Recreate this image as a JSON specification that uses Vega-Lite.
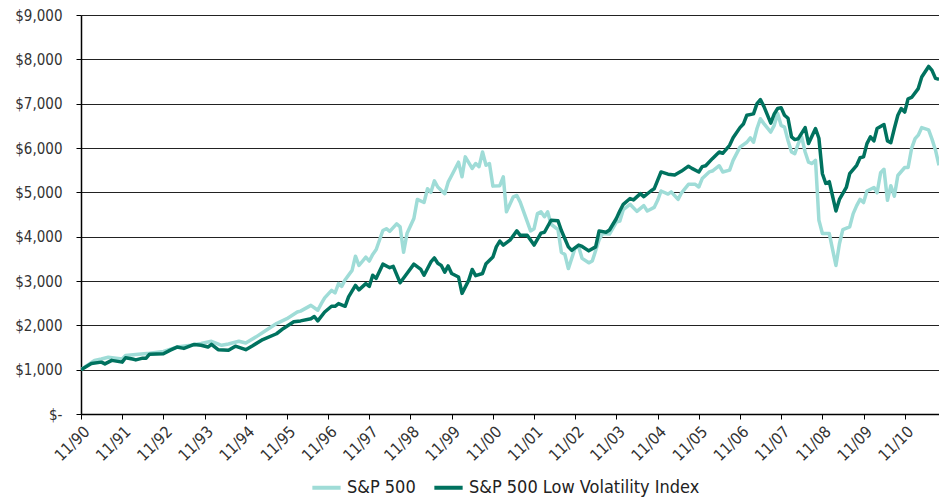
{
  "$schema": "https://vega.github.io/schema/vega-lite/v6.json",
  "width": 858,
  "height": 399,
  "autosize": {"type": "none"},
  "padding": {"left": 81, "top": 15, "right": 0, "bottom": 85},
  "background": "white",
  "config": {
    "view": {"stroke": null},
    "font": "DejaVu Sans Condensed"
  },
  "data": {
    "values": [
      {"d":"1990-11-01","s":"S&P 500","v":1000},
      {"d":"1991-03-01","s":"S&P 500","v":1210},
      {"d":"1991-05-01","s":"S&P 500","v":1240},
      {"d":"1991-07-01","s":"S&P 500","v":1280},
      {"d":"1991-11-01","s":"S&P 500","v":1240},
      {"d":"1991-12-01","s":"S&P 500","v":1320},
      {"d":"1992-03-01","s":"S&P 500","v":1340},
      {"d":"1992-07-01","s":"S&P 500","v":1370},
      {"d":"1992-11-01","s":"S&P 500","v":1410},
      {"d":"1993-03-01","s":"S&P 500","v":1510},
      {"d":"1993-07-01","s":"S&P 500","v":1550},
      {"d":"1993-10-01","s":"S&P 500","v":1590},
      {"d":"1994-01-01","s":"S&P 500","v":1640},
      {"d":"1994-04-01","s":"S&P 500","v":1550},
      {"d":"1994-06-01","s":"S&P 500","v":1580},
      {"d":"1994-09-01","s":"S&P 500","v":1640},
      {"d":"1994-11-01","s":"S&P 500","v":1600},
      {"d":"1995-02-01","s":"S&P 500","v":1740},
      {"d":"1995-05-01","s":"S&P 500","v":1890},
      {"d":"1995-08-01","s":"S&P 500","v":2040},
      {"d":"1995-11-01","s":"S&P 500","v":2150},
      {"d":"1996-02-01","s":"S&P 500","v":2300},
      {"d":"1996-03-01","s":"S&P 500","v":2320},
      {"d":"1996-06-01","s":"S&P 500","v":2450},
      {"d":"1996-08-01","s":"S&P 500","v":2340},
      {"d":"1996-09-01","s":"S&P 500","v":2490},
      {"d":"1996-10-01","s":"S&P 500","v":2620},
      {"d":"1996-12-01","s":"S&P 500","v":2790},
      {"d":"1997-01-01","s":"S&P 500","v":2730},
      {"d":"1997-02-01","s":"S&P 500","v":2940},
      {"d":"1997-03-01","s":"S&P 500","v":2880},
      {"d":"1997-04-01","s":"S&P 500","v":3030},
      {"d":"1997-06-01","s":"S&P 500","v":3240},
      {"d":"1997-07-01","s":"S&P 500","v":3560},
      {"d":"1997-08-01","s":"S&P 500","v":3350},
      {"d":"1997-10-01","s":"S&P 500","v":3540},
      {"d":"1997-11-01","s":"S&P 500","v":3450},
      {"d":"1997-12-01","s":"S&P 500","v":3600},
      {"d":"1998-01-01","s":"S&P 500","v":3710},
      {"d":"1998-03-01","s":"S&P 500","v":4140},
      {"d":"1998-04-01","s":"S&P 500","v":4180},
      {"d":"1998-05-01","s":"S&P 500","v":4120},
      {"d":"1998-07-01","s":"S&P 500","v":4290},
      {"d":"1998-08-01","s":"S&P 500","v":4220},
      {"d":"1998-09-01","s":"S&P 500","v":3650},
      {"d":"1998-10-01","s":"S&P 500","v":4070},
      {"d":"1998-12-01","s":"S&P 500","v":4410},
      {"d":"1999-01-01","s":"S&P 500","v":4840},
      {"d":"1999-03-01","s":"S&P 500","v":4770},
      {"d":"1999-04-01","s":"S&P 500","v":5080},
      {"d":"1999-05-01","s":"S&P 500","v":5000},
      {"d":"1999-06-01","s":"S&P 500","v":5260},
      {"d":"1999-07-01","s":"S&P 500","v":5120},
      {"d":"1999-09-01","s":"S&P 500","v":4970},
      {"d":"1999-10-01","s":"S&P 500","v":5230},
      {"d":"1999-11-01","s":"S&P 500","v":5380},
      {"d":"2000-01-01","s":"S&P 500","v":5680},
      {"d":"2000-02-01","s":"S&P 500","v":5350},
      {"d":"2000-03-01","s":"S&P 500","v":5800},
      {"d":"2000-05-01","s":"S&P 500","v":5540},
      {"d":"2000-06-01","s":"S&P 500","v":5650},
      {"d":"2000-07-01","s":"S&P 500","v":5580},
      {"d":"2000-08-01","s":"S&P 500","v":5910},
      {"d":"2000-09-01","s":"S&P 500","v":5610},
      {"d":"2000-10-01","s":"S&P 500","v":5650},
      {"d":"2000-11-01","s":"S&P 500","v":5140},
      {"d":"2001-01-01","s":"S&P 500","v":5150},
      {"d":"2001-02-01","s":"S&P 500","v":5350},
      {"d":"2001-03-01","s":"S&P 500","v":4560},
      {"d":"2001-05-01","s":"S&P 500","v":4900},
      {"d":"2001-06-01","s":"S&P 500","v":4930},
      {"d":"2001-07-01","s":"S&P 500","v":4780},
      {"d":"2001-10-01","s":"S&P 500","v":4130},
      {"d":"2001-11-01","s":"S&P 500","v":4180},
      {"d":"2001-12-01","s":"S&P 500","v":4520},
      {"d":"2002-01-01","s":"S&P 500","v":4560},
      {"d":"2002-02-01","s":"S&P 500","v":4450},
      {"d":"2002-03-01","s":"S&P 500","v":4560},
      {"d":"2002-04-01","s":"S&P 500","v":4280},
      {"d":"2002-06-01","s":"S&P 500","v":4160},
      {"d":"2002-07-01","s":"S&P 500","v":3650},
      {"d":"2002-08-01","s":"S&P 500","v":3600},
      {"d":"2002-09-01","s":"S&P 500","v":3280},
      {"d":"2002-11-01","s":"S&P 500","v":3750},
      {"d":"2002-12-01","s":"S&P 500","v":3770},
      {"d":"2003-01-01","s":"S&P 500","v":3510},
      {"d":"2003-03-01","s":"S&P 500","v":3410},
      {"d":"2003-04-01","s":"S&P 500","v":3450},
      {"d":"2003-06-01","s":"S&P 500","v":3930},
      {"d":"2003-07-01","s":"S&P 500","v":4070},
      {"d":"2003-09-01","s":"S&P 500","v":4060},
      {"d":"2003-11-01","s":"S&P 500","v":4330},
      {"d":"2003-12-01","s":"S&P 500","v":4350},
      {"d":"2004-01-01","s":"S&P 500","v":4610},
      {"d":"2004-03-01","s":"S&P 500","v":4730},
      {"d":"2004-05-01","s":"S&P 500","v":4570},
      {"d":"2004-07-01","s":"S&P 500","v":4700},
      {"d":"2004-08-01","s":"S&P 500","v":4580},
      {"d":"2004-10-01","s":"S&P 500","v":4660},
      {"d":"2004-11-01","s":"S&P 500","v":4820},
      {"d":"2004-12-01","s":"S&P 500","v":5030},
      {"d":"2005-02-01","s":"S&P 500","v":4960},
      {"d":"2005-03-01","s":"S&P 500","v":5010},
      {"d":"2005-05-01","s":"S&P 500","v":4840},
      {"d":"2005-06-01","s":"S&P 500","v":4990},
      {"d":"2005-08-01","s":"S&P 500","v":5180},
      {"d":"2005-10-01","s":"S&P 500","v":5180},
      {"d":"2005-11-01","s":"S&P 500","v":5120},
      {"d":"2005-12-01","s":"S&P 500","v":5310},
      {"d":"2006-02-01","s":"S&P 500","v":5460},
      {"d":"2006-03-01","s":"S&P 500","v":5480},
      {"d":"2006-05-01","s":"S&P 500","v":5600},
      {"d":"2006-06-01","s":"S&P 500","v":5460},
      {"d":"2006-08-01","s":"S&P 500","v":5500},
      {"d":"2006-09-01","s":"S&P 500","v":5720},
      {"d":"2006-11-01","s":"S&P 500","v":6020},
      {"d":"2007-01-01","s":"S&P 500","v":6130},
      {"d":"2007-02-01","s":"S&P 500","v":6230},
      {"d":"2007-03-01","s":"S&P 500","v":6130},
      {"d":"2007-04-01","s":"S&P 500","v":6440},
      {"d":"2007-05-01","s":"S&P 500","v":6660},
      {"d":"2007-06-01","s":"S&P 500","v":6550},
      {"d":"2007-08-01","s":"S&P 500","v":6360},
      {"d":"2007-09-01","s":"S&P 500","v":6510},
      {"d":"2007-10-01","s":"S&P 500","v":6780},
      {"d":"2007-11-01","s":"S&P 500","v":6510},
      {"d":"2007-12-01","s":"S&P 500","v":6470},
      {"d":"2008-01-01","s":"S&P 500","v":6170},
      {"d":"2008-02-01","s":"S&P 500","v":5910},
      {"d":"2008-03-01","s":"S&P 500","v":5870},
      {"d":"2008-04-01","s":"S&P 500","v":6100},
      {"d":"2008-05-01","s":"S&P 500","v":6250},
      {"d":"2008-06-01","s":"S&P 500","v":5910},
      {"d":"2008-07-01","s":"S&P 500","v":5680},
      {"d":"2008-08-01","s":"S&P 500","v":5650},
      {"d":"2008-09-01","s":"S&P 500","v":5720},
      {"d":"2008-10-01","s":"S&P 500","v":4370},
      {"d":"2008-11-01","s":"S&P 500","v":4070},
      {"d":"2009-01-01","s":"S&P 500","v":4070},
      {"d":"2009-03-01","s":"S&P 500","v":3350},
      {"d":"2009-04-01","s":"S&P 500","v":3840},
      {"d":"2009-05-01","s":"S&P 500","v":4160},
      {"d":"2009-07-01","s":"S&P 500","v":4220},
      {"d":"2009-08-01","s":"S&P 500","v":4520},
      {"d":"2009-09-01","s":"S&P 500","v":4700},
      {"d":"2009-10-01","s":"S&P 500","v":4840},
      {"d":"2009-11-01","s":"S&P 500","v":4770},
      {"d":"2009-12-01","s":"S&P 500","v":5030},
      {"d":"2010-02-01","s":"S&P 500","v":5110},
      {"d":"2010-03-01","s":"S&P 500","v":4990},
      {"d":"2010-04-01","s":"S&P 500","v":5440},
      {"d":"2010-05-01","s":"S&P 500","v":5520},
      {"d":"2010-06-01","s":"S&P 500","v":4820},
      {"d":"2010-07-01","s":"S&P 500","v":5150},
      {"d":"2010-08-01","s":"S&P 500","v":4910},
      {"d":"2010-09-01","s":"S&P 500","v":5380},
      {"d":"2010-11-01","s":"S&P 500","v":5560},
      {"d":"2010-12-01","s":"S&P 500","v":5560},
      {"d":"2011-01-01","s":"S&P 500","v":5990},
      {"d":"2011-02-01","s":"S&P 500","v":6210},
      {"d":"2011-03-01","s":"S&P 500","v":6290},
      {"d":"2011-04-01","s":"S&P 500","v":6460},
      {"d":"2011-06-01","s":"S&P 500","v":6410},
      {"d":"2011-07-01","s":"S&P 500","v":6200},
      {"d":"2011-08-01","s":"S&P 500","v":5950},
      {"d":"2011-09-01","s":"S&P 500","v":5610},
      {"d":"1990-11-01","s":"S&P 500 Low Volatility Index","v":1000},
      {"d":"1991-02-01","s":"S&P 500 Low Volatility Index","v":1140},
      {"d":"1991-05-01","s":"S&P 500 Low Volatility Index","v":1170},
      {"d":"1991-06-01","s":"S&P 500 Low Volatility Index","v":1130},
      {"d":"1991-08-01","s":"S&P 500 Low Volatility Index","v":1210},
      {"d":"1991-11-01","s":"S&P 500 Low Volatility Index","v":1170},
      {"d":"1991-12-01","s":"S&P 500 Low Volatility Index","v":1270},
      {"d":"1992-02-01","s":"S&P 500 Low Volatility Index","v":1240},
      {"d":"1992-03-01","s":"S&P 500 Low Volatility Index","v":1220},
      {"d":"1992-05-01","s":"S&P 500 Low Volatility Index","v":1260},
      {"d":"1992-06-01","s":"S&P 500 Low Volatility Index","v":1260},
      {"d":"1992-07-01","s":"S&P 500 Low Volatility Index","v":1350},
      {"d":"1992-11-01","s":"S&P 500 Low Volatility Index","v":1360},
      {"d":"1993-01-01","s":"S&P 500 Low Volatility Index","v":1440},
      {"d":"1993-03-01","s":"S&P 500 Low Volatility Index","v":1510},
      {"d":"1993-05-01","s":"S&P 500 Low Volatility Index","v":1480},
      {"d":"1993-08-01","s":"S&P 500 Low Volatility Index","v":1570},
      {"d":"1993-10-01","s":"S&P 500 Low Volatility Index","v":1550},
      {"d":"1993-12-01","s":"S&P 500 Low Volatility Index","v":1510},
      {"d":"1994-01-01","s":"S&P 500 Low Volatility Index","v":1570},
      {"d":"1994-03-01","s":"S&P 500 Low Volatility Index","v":1450},
      {"d":"1994-06-01","s":"S&P 500 Low Volatility Index","v":1440},
      {"d":"1994-08-01","s":"S&P 500 Low Volatility Index","v":1530},
      {"d":"1994-11-01","s":"S&P 500 Low Volatility Index","v":1450},
      {"d":"1995-01-01","s":"S&P 500 Low Volatility Index","v":1540},
      {"d":"1995-04-01","s":"S&P 500 Low Volatility Index","v":1680},
      {"d":"1995-08-01","s":"S&P 500 Low Volatility Index","v":1810},
      {"d":"1995-10-01","s":"S&P 500 Low Volatility Index","v":1930},
      {"d":"1996-01-01","s":"S&P 500 Low Volatility Index","v":2080},
      {"d":"1996-03-01","s":"S&P 500 Low Volatility Index","v":2100},
      {"d":"1996-06-01","s":"S&P 500 Low Volatility Index","v":2150},
      {"d":"1996-07-01","s":"S&P 500 Low Volatility Index","v":2200},
      {"d":"1996-08-01","s":"S&P 500 Low Volatility Index","v":2100},
      {"d":"1996-10-01","s":"S&P 500 Low Volatility Index","v":2300},
      {"d":"1996-12-01","s":"S&P 500 Low Volatility Index","v":2430},
      {"d":"1997-01-01","s":"S&P 500 Low Volatility Index","v":2430},
      {"d":"1997-02-01","s":"S&P 500 Low Volatility Index","v":2490},
      {"d":"1997-04-01","s":"S&P 500 Low Volatility Index","v":2430},
      {"d":"1997-05-01","s":"S&P 500 Low Volatility Index","v":2640},
      {"d":"1997-07-01","s":"S&P 500 Low Volatility Index","v":2900},
      {"d":"1997-08-01","s":"S&P 500 Low Volatility Index","v":2800},
      {"d":"1997-10-01","s":"S&P 500 Low Volatility Index","v":2940},
      {"d":"1997-11-01","s":"S&P 500 Low Volatility Index","v":2880},
      {"d":"1997-12-01","s":"S&P 500 Low Volatility Index","v":3130},
      {"d":"1998-01-01","s":"S&P 500 Low Volatility Index","v":3060},
      {"d":"1998-03-01","s":"S&P 500 Low Volatility Index","v":3380},
      {"d":"1998-05-01","s":"S&P 500 Low Volatility Index","v":3300},
      {"d":"1998-06-01","s":"S&P 500 Low Volatility Index","v":3330},
      {"d":"1998-08-01","s":"S&P 500 Low Volatility Index","v":2960},
      {"d":"1998-10-01","s":"S&P 500 Low Volatility Index","v":3170},
      {"d":"1998-12-01","s":"S&P 500 Low Volatility Index","v":3380},
      {"d":"1999-02-01","s":"S&P 500 Low Volatility Index","v":3260},
      {"d":"1999-03-01","s":"S&P 500 Low Volatility Index","v":3130},
      {"d":"1999-05-01","s":"S&P 500 Low Volatility Index","v":3430},
      {"d":"1999-06-01","s":"S&P 500 Low Volatility Index","v":3520},
      {"d":"1999-07-01","s":"S&P 500 Low Volatility Index","v":3400},
      {"d":"1999-08-01","s":"S&P 500 Low Volatility Index","v":3350},
      {"d":"1999-09-01","s":"S&P 500 Low Volatility Index","v":3200},
      {"d":"1999-10-01","s":"S&P 500 Low Volatility Index","v":3340},
      {"d":"1999-11-01","s":"S&P 500 Low Volatility Index","v":3170},
      {"d":"2000-01-01","s":"S&P 500 Low Volatility Index","v":3090},
      {"d":"2000-02-01","s":"S&P 500 Low Volatility Index","v":2720},
      {"d":"2000-04-01","s":"S&P 500 Low Volatility Index","v":3020},
      {"d":"2000-05-01","s":"S&P 500 Low Volatility Index","v":3260},
      {"d":"2000-06-01","s":"S&P 500 Low Volatility Index","v":3120},
      {"d":"2000-08-01","s":"S&P 500 Low Volatility Index","v":3170},
      {"d":"2000-09-01","s":"S&P 500 Low Volatility Index","v":3390},
      {"d":"2000-11-01","s":"S&P 500 Low Volatility Index","v":3540},
      {"d":"2000-12-01","s":"S&P 500 Low Volatility Index","v":3770},
      {"d":"2001-01-01","s":"S&P 500 Low Volatility Index","v":3900},
      {"d":"2001-02-01","s":"S&P 500 Low Volatility Index","v":3810},
      {"d":"2001-04-01","s":"S&P 500 Low Volatility Index","v":3920},
      {"d":"2001-06-01","s":"S&P 500 Low Volatility Index","v":4130},
      {"d":"2001-07-01","s":"S&P 500 Low Volatility Index","v":4030},
      {"d":"2001-09-01","s":"S&P 500 Low Volatility Index","v":4030},
      {"d":"2001-11-01","s":"S&P 500 Low Volatility Index","v":3810},
      {"d":"2002-01-01","s":"S&P 500 Low Volatility Index","v":4080},
      {"d":"2002-02-01","s":"S&P 500 Low Volatility Index","v":4100},
      {"d":"2002-04-01","s":"S&P 500 Low Volatility Index","v":4370},
      {"d":"2002-06-01","s":"S&P 500 Low Volatility Index","v":4360},
      {"d":"2002-07-01","s":"S&P 500 Low Volatility Index","v":4140},
      {"d":"2002-09-01","s":"S&P 500 Low Volatility Index","v":3770},
      {"d":"2002-10-01","s":"S&P 500 Low Volatility Index","v":3690},
      {"d":"2002-12-01","s":"S&P 500 Low Volatility Index","v":3810},
      {"d":"2003-01-01","s":"S&P 500 Low Volatility Index","v":3780},
      {"d":"2003-03-01","s":"S&P 500 Low Volatility Index","v":3680},
      {"d":"2003-05-01","s":"S&P 500 Low Volatility Index","v":3770},
      {"d":"2003-06-01","s":"S&P 500 Low Volatility Index","v":4130},
      {"d":"2003-08-01","s":"S&P 500 Low Volatility Index","v":4100},
      {"d":"2003-09-01","s":"S&P 500 Low Volatility Index","v":4150},
      {"d":"2003-11-01","s":"S&P 500 Low Volatility Index","v":4410},
      {"d":"2003-12-01","s":"S&P 500 Low Volatility Index","v":4580},
      {"d":"2004-01-01","s":"S&P 500 Low Volatility Index","v":4730},
      {"d":"2004-03-01","s":"S&P 500 Low Volatility Index","v":4860},
      {"d":"2004-04-01","s":"S&P 500 Low Volatility Index","v":4830},
      {"d":"2004-06-01","s":"S&P 500 Low Volatility Index","v":4970},
      {"d":"2004-07-01","s":"S&P 500 Low Volatility Index","v":4900},
      {"d":"2004-09-01","s":"S&P 500 Low Volatility Index","v":5030},
      {"d":"2004-10-01","s":"S&P 500 Low Volatility Index","v":5080},
      {"d":"2004-12-01","s":"S&P 500 Low Volatility Index","v":5460},
      {"d":"2005-02-01","s":"S&P 500 Low Volatility Index","v":5410},
      {"d":"2005-04-01","s":"S&P 500 Low Volatility Index","v":5390},
      {"d":"2005-06-01","s":"S&P 500 Low Volatility Index","v":5480},
      {"d":"2005-08-01","s":"S&P 500 Low Volatility Index","v":5590},
      {"d":"2005-09-01","s":"S&P 500 Low Volatility Index","v":5540},
      {"d":"2005-11-01","s":"S&P 500 Low Volatility Index","v":5460},
      {"d":"2005-12-01","s":"S&P 500 Low Volatility Index","v":5580},
      {"d":"2006-01-01","s":"S&P 500 Low Volatility Index","v":5600},
      {"d":"2006-03-01","s":"S&P 500 Low Volatility Index","v":5760},
      {"d":"2006-05-01","s":"S&P 500 Low Volatility Index","v":5910},
      {"d":"2006-06-01","s":"S&P 500 Low Volatility Index","v":5880},
      {"d":"2006-08-01","s":"S&P 500 Low Volatility Index","v":6060},
      {"d":"2006-09-01","s":"S&P 500 Low Volatility Index","v":6230},
      {"d":"2006-11-01","s":"S&P 500 Low Volatility Index","v":6460},
      {"d":"2006-12-01","s":"S&P 500 Low Volatility Index","v":6540},
      {"d":"2007-01-01","s":"S&P 500 Low Volatility Index","v":6740},
      {"d":"2007-03-01","s":"S&P 500 Low Volatility Index","v":6770},
      {"d":"2007-04-01","s":"S&P 500 Low Volatility Index","v":7000},
      {"d":"2007-05-01","s":"S&P 500 Low Volatility Index","v":7090},
      {"d":"2007-06-01","s":"S&P 500 Low Volatility Index","v":6940},
      {"d":"2007-08-01","s":"S&P 500 Low Volatility Index","v":6560},
      {"d":"2007-09-01","s":"S&P 500 Low Volatility Index","v":6770},
      {"d":"2007-10-01","s":"S&P 500 Low Volatility Index","v":6890},
      {"d":"2007-11-01","s":"S&P 500 Low Volatility Index","v":6910},
      {"d":"2007-12-01","s":"S&P 500 Low Volatility Index","v":6740},
      {"d":"2008-01-01","s":"S&P 500 Low Volatility Index","v":6670},
      {"d":"2008-02-01","s":"S&P 500 Low Volatility Index","v":6250},
      {"d":"2008-03-01","s":"S&P 500 Low Volatility Index","v":6190},
      {"d":"2008-04-01","s":"S&P 500 Low Volatility Index","v":6210},
      {"d":"2008-06-01","s":"S&P 500 Low Volatility Index","v":6460},
      {"d":"2008-07-01","s":"S&P 500 Low Volatility Index","v":6100},
      {"d":"2008-09-01","s":"S&P 500 Low Volatility Index","v":6440},
      {"d":"2008-10-01","s":"S&P 500 Low Volatility Index","v":6220},
      {"d":"2008-11-01","s":"S&P 500 Low Volatility Index","v":5420},
      {"d":"2008-12-01","s":"S&P 500 Low Volatility Index","v":5200},
      {"d":"2009-01-01","s":"S&P 500 Low Volatility Index","v":5240},
      {"d":"2009-03-01","s":"S&P 500 Low Volatility Index","v":4580},
      {"d":"2009-04-01","s":"S&P 500 Low Volatility Index","v":4840},
      {"d":"2009-06-01","s":"S&P 500 Low Volatility Index","v":5110},
      {"d":"2009-07-01","s":"S&P 500 Low Volatility Index","v":5420},
      {"d":"2009-09-01","s":"S&P 500 Low Volatility Index","v":5610},
      {"d":"2009-10-01","s":"S&P 500 Low Volatility Index","v":5780},
      {"d":"2009-11-01","s":"S&P 500 Low Volatility Index","v":5800},
      {"d":"2009-12-01","s":"S&P 500 Low Volatility Index","v":6100},
      {"d":"2010-01-01","s":"S&P 500 Low Volatility Index","v":6250},
      {"d":"2010-02-01","s":"S&P 500 Low Volatility Index","v":6160},
      {"d":"2010-03-01","s":"S&P 500 Low Volatility Index","v":6440},
      {"d":"2010-05-01","s":"S&P 500 Low Volatility Index","v":6530},
      {"d":"2010-06-01","s":"S&P 500 Low Volatility Index","v":6160},
      {"d":"2010-07-01","s":"S&P 500 Low Volatility Index","v":6120},
      {"d":"2010-08-01","s":"S&P 500 Low Volatility Index","v":6440},
      {"d":"2010-09-01","s":"S&P 500 Low Volatility Index","v":6740},
      {"d":"2010-10-01","s":"S&P 500 Low Volatility Index","v":6890},
      {"d":"2010-11-01","s":"S&P 500 Low Volatility Index","v":6810},
      {"d":"2010-12-01","s":"S&P 500 Low Volatility Index","v":7110},
      {"d":"2011-01-01","s":"S&P 500 Low Volatility Index","v":7140},
      {"d":"2011-03-01","s":"S&P 500 Low Volatility Index","v":7340},
      {"d":"2011-04-01","s":"S&P 500 Low Volatility Index","v":7600},
      {"d":"2011-06-01","s":"S&P 500 Low Volatility Index","v":7840},
      {"d":"2011-07-01","s":"S&P 500 Low Volatility Index","v":7750},
      {"d":"2011-08-01","s":"S&P 500 Low Volatility Index","v":7570},
      {"d":"2011-09-01","s":"S&P 500 Low Volatility Index","v":7550}
    ]
  },
  "mark": {"type": "line", "strokeWidth": 3.5, "strokeJoin": "round", "clip": true},
  "encoding": {
    "x": {
      "field": "d",
      "type": "temporal",
      "title": null,
      "scale": {
        "type": "utc",
        "domain": [
          {"year": 1990, "month": 11, "date": 1, "utc": true},
          {"year": 2011, "month": 9, "date": 1, "utc": true}
        ]
      },
      "axis": {
        "values": [
          {"year": 1990, "month": 11, "date": 1, "utc": true},
          {"year": 1991, "month": 11, "date": 1, "utc": true},
          {"year": 1992, "month": 11, "date": 1, "utc": true},
          {"year": 1993, "month": 11, "date": 1, "utc": true},
          {"year": 1994, "month": 11, "date": 1, "utc": true},
          {"year": 1995, "month": 11, "date": 1, "utc": true},
          {"year": 1996, "month": 11, "date": 1, "utc": true},
          {"year": 1997, "month": 11, "date": 1, "utc": true},
          {"year": 1998, "month": 11, "date": 1, "utc": true},
          {"year": 1999, "month": 11, "date": 1, "utc": true},
          {"year": 2000, "month": 11, "date": 1, "utc": true},
          {"year": 2001, "month": 11, "date": 1, "utc": true},
          {"year": 2002, "month": 11, "date": 1, "utc": true},
          {"year": 2003, "month": 11, "date": 1, "utc": true},
          {"year": 2004, "month": 11, "date": 1, "utc": true},
          {"year": 2005, "month": 11, "date": 1, "utc": true},
          {"year": 2006, "month": 11, "date": 1, "utc": true},
          {"year": 2007, "month": 11, "date": 1, "utc": true},
          {"year": 2008, "month": 11, "date": 1, "utc": true},
          {"year": 2009, "month": 11, "date": 1, "utc": true},
          {"year": 2010, "month": 11, "date": 1, "utc": true}
        ],
        "labelExpr": "utcFormat(datum.value, '%m/%y')",
        "labelAngle": -45,
        "labelAlign": "right",
        "labelBaseline": "top",
        "labelFontSize": 16,
        "labelColor": "#333",
        "labelPadding": 4,
        "labelOverlap": false,
        "labelFlush": false,
        "grid": false,
        "domainColor": "#000",
        "domainWidth": 1.5,
        "tickColor": "#000",
        "tickSize": 5,
        "tickWidth": 1
      }
    },
    "y": {
      "field": "v",
      "type": "quantitative",
      "title": null,
      "scale": {"domain": [0, 9000], "nice": false, "zero": true},
      "axis": {
        "values": [0, 1000, 2000, 3000, 4000, 5000, 6000, 7000, 8000, 9000],
        "labelExpr": "datum.value === 0 ? '$-' : '$' + format(datum.value, ',')",
        "labelFontSize": 15,
        "labelColor": "#333",
        "labelPadding": 14,
        "grid": true,
        "gridColor": "#222",
        "gridWidth": 1,
        "domainColor": "#000",
        "domainWidth": 1.5,
        "tickColor": "#000",
        "tickSize": 5,
        "tickWidth": 1
      }
    },
    "color": {
      "field": "s",
      "type": "nominal",
      "title": null,
      "scale": {
        "domain": ["S&P 500", "S&P 500 Low Volatility Index"],
        "range": ["#9fdcd7", "#00725f"]
      },
      "legend": {
        "orient": "none",
        "legendX": 229,
        "legendY": 456,
        "direction": "horizontal",
        "symbolType": "stroke",
        "symbolStrokeWidth": 4,
        "symbolSize": 800,
        "labelFontSize": 18,
        "labelLimit": 500,
        "labelColor": "#222",
        "columnPadding": 10,
        "labelOffset": 4,
        "padding": 0
      }
    }
  }
}
